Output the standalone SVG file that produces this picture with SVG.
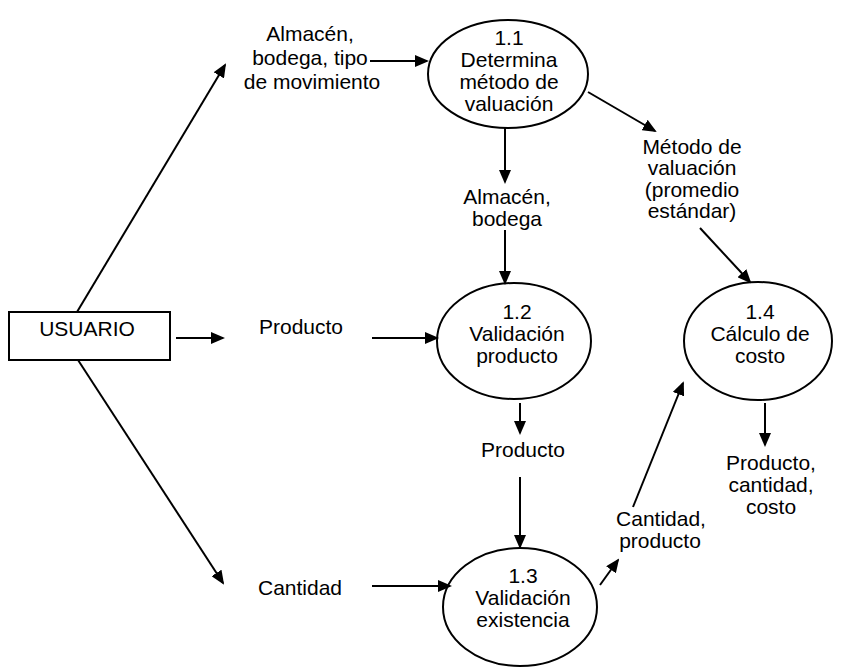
<svg xmlns="http://www.w3.org/2000/svg" width="841" height="668" viewBox="0 0 841 668">
  <style>
    .t{font-family:"Liberation Sans",Arial,sans-serif;font-size:21px;fill:#000;text-anchor:middle}
    .n{fill:#fff;stroke:#000;stroke-width:2}
    .c{stroke:#000;stroke-width:2;fill:none}
  </style>
  <defs>
    <marker id="ah" viewBox="0 0 14 12" refX="12" refY="6" markerWidth="14" markerHeight="12" orient="auto" markerUnits="userSpaceOnUse">
      <path d="M0,0 L14,6 L0,12 z" fill="#000"/>
    </marker>
  </defs>
  <rect width="841" height="668" fill="#fff"/>

  <!-- external entity -->
  <g id="usuario">
    <rect class="n" x="9" y="312" width="161" height="48"/>
    <text class="t" x="87" y="336">USUARIO</text>
  </g>

  <!-- processes -->
  <g id="p11">
    <ellipse class="n" cx="508" cy="74" rx="80" ry="54"/>
    <text class="t" x="509" y="45">1.1</text>
    <text class="t" x="509" y="67">Determina</text>
    <text class="t" x="509" y="89">método de</text>
    <text class="t" x="509" y="111">valuación</text>
  </g>
  <g id="p12">
    <ellipse class="n" cx="514" cy="341" rx="77" ry="58"/>
    <text class="t" x="517" y="319">1.2</text>
    <text class="t" x="517" y="341">Validación</text>
    <text class="t" x="517" y="363">producto</text>
  </g>
  <g id="p13">
    <ellipse class="n" cx="520" cy="607" rx="77" ry="59"/>
    <text class="t" x="523" y="583">1.3</text>
    <text class="t" x="523" y="605">Validación</text>
    <text class="t" x="523" y="627">existencia</text>
  </g>
  <g id="p14">
    <ellipse class="n" cx="758" cy="341" rx="74" ry="59"/>
    <text class="t" x="760" y="319">1.4</text>
    <text class="t" x="760" y="341">Cálculo de</text>
    <text class="t" x="760" y="363">costo</text>
  </g>

  <!-- data flows -->
  <g id="connectors">
    <line class="c" x1="77" y1="312" x2="225" y2="65" marker-end="url(#ah)"/>
    <line class="c" x1="176" y1="338" x2="223" y2="338" marker-end="url(#ah)"/>
    <line class="c" x1="78" y1="360" x2="223" y2="583" marker-end="url(#ah)"/>
    <line class="c" x1="370" y1="61" x2="427" y2="61" marker-end="url(#ah)"/>
    <line class="c" x1="505" y1="128" x2="505" y2="182" marker-end="url(#ah)"/>
    <line class="c" x1="505" y1="230" x2="505" y2="283" marker-end="url(#ah)"/>
    <line class="c" x1="372" y1="338" x2="437" y2="338" marker-end="url(#ah)"/>
    <line class="c" x1="520" y1="403" x2="520" y2="433" marker-end="url(#ah)"/>
    <line class="c" x1="520" y1="477" x2="520" y2="547" marker-end="url(#ah)"/>
    <line class="c" x1="372" y1="586" x2="450" y2="586" marker-end="url(#ah)"/>
    <line class="c" x1="600" y1="585" x2="618" y2="560" marker-end="url(#ah)"/>
    <line class="c" x1="633" y1="507" x2="683" y2="383" marker-end="url(#ah)"/>
    <line class="c" x1="588" y1="92" x2="655" y2="131" marker-end="url(#ah)"/>
    <line class="c" x1="700" y1="228" x2="750" y2="282" marker-end="url(#ah)"/>
    <line class="c" x1="765" y1="403" x2="765" y2="445" marker-end="url(#ah)"/>
  </g>

  <!-- flow labels -->
  <g id="labels">
    <text class="t" x="310" y="41">Almacén,</text>
    <text class="t" x="310" y="65">bodega, tipo</text>
    <text class="t" x="312" y="89">de movimiento</text>
    <text class="t" x="507" y="204">Almacén,</text>
    <text class="t" x="507" y="226">bodega</text>
    <text class="t" x="301" y="334">Producto</text>
    <text class="t" x="523" y="457">Producto</text>
    <text class="t" x="300" y="595">Cantidad</text>
    <text class="t" x="661" y="526">Cantidad,</text>
    <text class="t" x="660" y="548">producto</text>
    <text class="t" x="692" y="154">Método de</text>
    <text class="t" x="692" y="175">valuación</text>
    <text class="t" x="692" y="197">(promedio</text>
    <text class="t" x="692" y="218">estándar)</text>
    <text class="t" x="771" y="470">Producto,</text>
    <text class="t" x="771" y="492">cantidad,</text>
    <text class="t" x="771" y="514">costo</text>
  </g>
</svg>
